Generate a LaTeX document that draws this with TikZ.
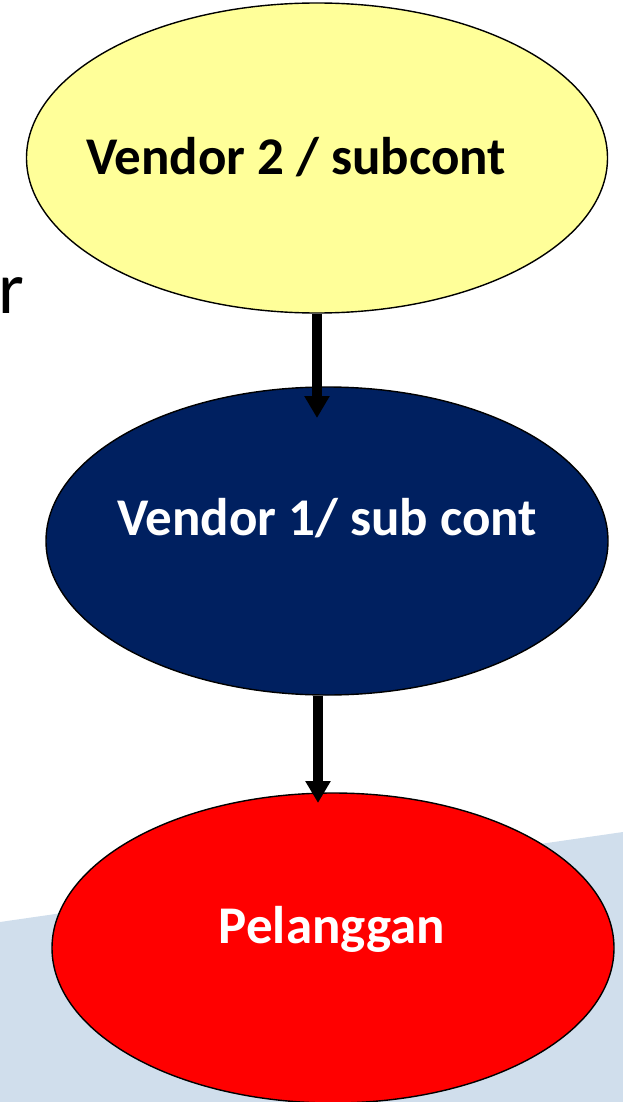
\documentclass[tikz,border=0pt]{standalone}
\usepackage{fontspec}
\setmainfont{Carlito}
\usetikzlibrary{shapes.geometric,arrows.meta}
\definecolor{paleyellow}{HTML}{FFFF99}
\definecolor{navyblue}{HTML}{002060}
\definecolor{bandblue}{HTML}{D0DEEC}
\tikzset{
  blob/.style={ellipse, draw=black, line width=1.4pt, inner sep=0pt},
  caption/.style={anchor=base, inner sep=0pt, font=\fontsize{53}{60}\selectfont\bfseries},
  flow/.style={line width=10pt, -{Triangle[width=24pt,length=22pt]}}
}
\begin{document}
\begin{tikzpicture}[x=1pt, y=-1pt]
  \useasboundingbox (0,0) rectangle (623,1102);
  % pale slanted band along the bottom
  \fill[bandblue] (0,922) -- (623,832) -- (623,1102) -- (0,1102) -- cycle;
  % stray letter at the left edge
  \node[anchor=base west, inner sep=0pt, font=\fontsize{74}{80}\selectfont] (stray) at (-2,313) {r};
  % the three parties
  \node[blob, fill=paleyellow, minimum width=581pt, minimum height=310pt] (v2) at (317,158) {};
  \node[blob, fill=navyblue, minimum width=562pt, minimum height=308pt] (v1) at (327,541) {};
  \node[blob, fill=red, minimum width=562pt, minimum height=310pt] (cust) at (333,948) {};
  % their names
  \node[caption, text=black] (v2t) at (296,175) {Vendor 2 / subcont};
  \node[caption, text=white] (v1t) at (327,535) {Vendor 1/ sub cont};
  \node[caption, text=white] (custt) at (332,943) {Pelanggan};
  % flow arrows
  \coordinate (tip1) at (317,418);
  \coordinate (tip2) at (318,803);
  \draw[flow] (v2.south) -- (tip1);
  \draw[flow] (v1.south -| tip2) -- (tip2);
\end{tikzpicture}
\end{document}
